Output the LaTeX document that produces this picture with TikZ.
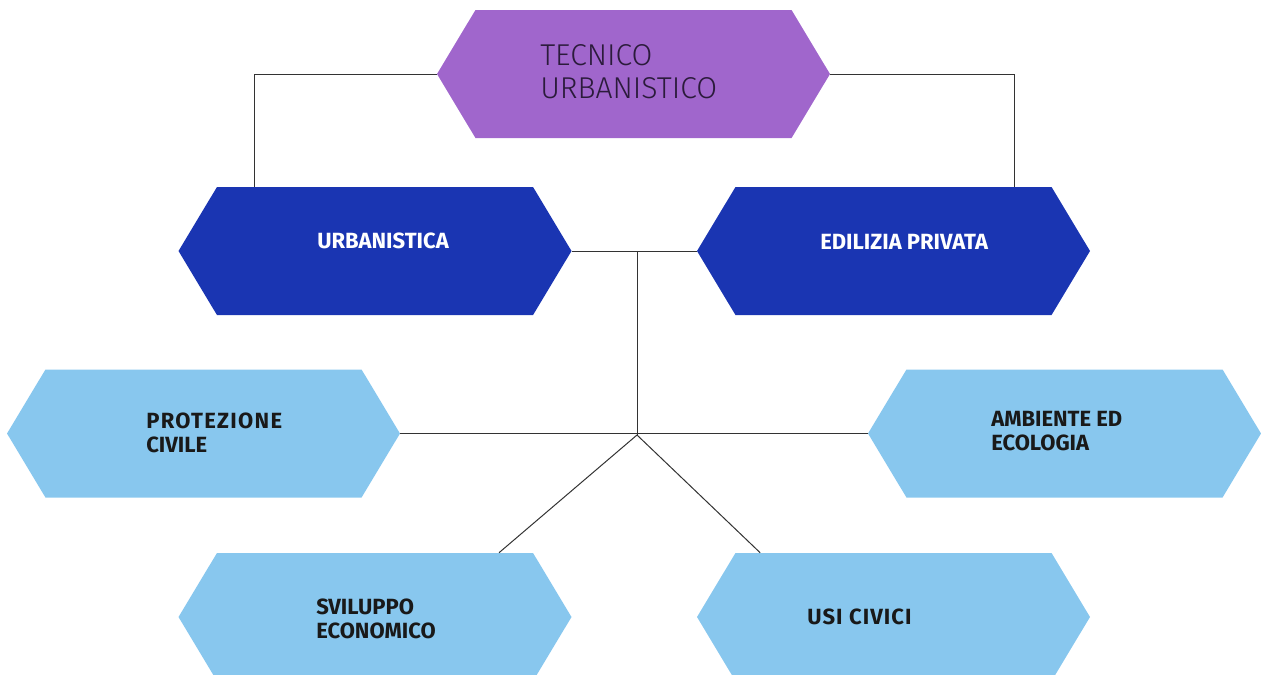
\documentclass[tikz,border=0pt]{standalone}
\usepackage{fontspec}
\setmainfont{Fira Sans}
\newfontfamily\lightfont{Fira Sans Light}
\usetikzlibrary{shapes.symbols}
\definecolor{hexpurple}{HTML}{A066CC}
\definecolor{hexdark}{HTML}{1A35B2}
\definecolor{hexlight}{HTML}{88C7EE}
\definecolor{linegray}{HTML}{333333}
\definecolor{textpurple}{HTML}{2B1B3B}
\tikzstyle{hex}=[signal, signal to=west and east, signal pointer angle=118, minimum width=294.75pt, minimum height=96pt, inner sep=0pt, draw=none]
\tikzstyle{purple hex}=[hex, fill=hexpurple]
\tikzstyle{dark hex}=[hex, fill=hexdark]
\tikzstyle{light hex}=[hex, fill=hexlight]
\tikzstyle{hextext}=[anchor=west, align=left, inner sep=0pt, font=\bfseries\fontsize{16.5}{18.5}\selectfont]
\tikzstyle{link}=[draw=linegray, line width=0.75pt]

\begin{document}
\begin{tikzpicture}[x=0.75pt, y=-0.75pt]
    \useasboundingbox (0,0) rectangle (1261,675);
    % First the connectors, under the boxes
    \coordinate (hub) at (637,435);

    % Then the hexagons
    \foreach \pos/\name/\kind in {{(633.5,74)/tecnico/purple hex}, {(375,251)/urban/dark hex}, {(893.5,251)/edil/dark hex},
        {(203.5,433.5)/prot/light hex}, {(1064.5,433.5)/amb/light hex}, {(375,617)/svil/light hex}, {(893.5,617)/usi/light hex}}
        \node[\kind] (\name) at \pos {};

    % Connect the hexagons
    \path[link] (tecnico.west) -| ([xshift=-90.75pt]urban.north);
    \path[link] (tecnico.east) -| ([xshift=90.4pt]edil.north);
    \path[link] (urban.east) -- (edil.west);
    \path[link] (hub |- urban.east) -- (hub);
    \path[link] (prot.east) -- (amb.west);
    \path[link] (hub) -- ([xshift=93pt]svil.north);
    \path[link] (hub) -- ([xshift=-100pt]usi.north);

    % Texts
    \node[hextext, font=\lightfont\fontsize{22.6}{24.75}\selectfont, text=textpurple] (tecnico-t) at (540,72) {TECNICO\\URBANISTICO};
    \foreach \pos/\name/\txt in {{(317,241)/urban-t/URBANISTICA}, {(820,242)/edil-t/EDILIZIA PRIVATA}}
        \node[hextext, text=white] (\name) at \pos {\txt};
    \foreach \pos/\name/\txt in {{(146,433)/prot-t/{\addfontfeatures{LetterSpace=6}PROTEZIONE\\CIVILE}}, {(991,431)/amb-t/{AMBIENTE ED\\ECOLOGIA}},
        {(316,619)/svil-t/{SVILUPPO\\ECONOMICO}}, {(807,617)/usi-t/{\addfontfeatures{LetterSpace=5}USI CIVICI}}}
        \node[hextext, text=black!90] (\name) at \pos {\txt};
\end{tikzpicture}
\end{document}
